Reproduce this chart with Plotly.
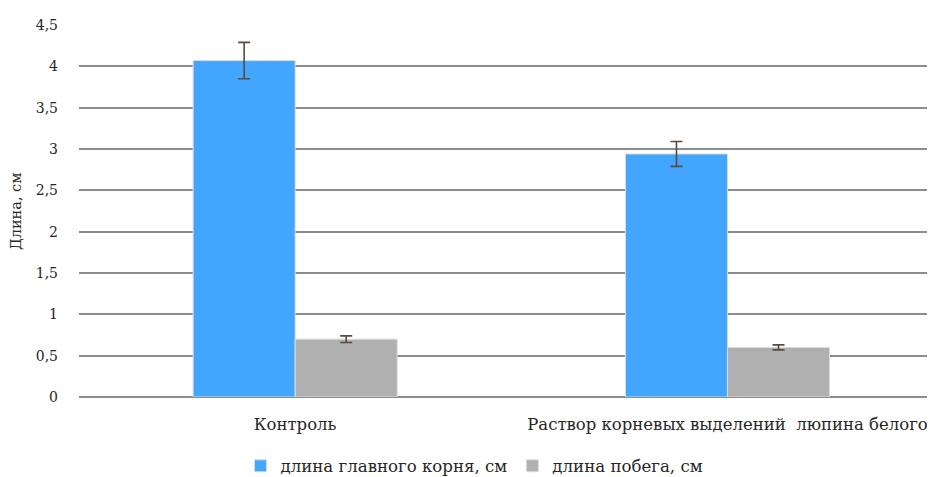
import plotly.graph_objects as go

categories = ["Контроль", "Раствор корневых выделений  люпина белого"]
root_len = [4.07, 2.94]
root_err = [0.22, 0.15]
shoot_len = [0.70, 0.60]
shoot_err = [0.04, 0.03]
y_ticks = [0, 0.5, 1, 1.5, 2, 2.5, 3, 3.5, 4, 4.5]
y_tick_labels = ["0", "0,5", "1", "1,5", "2", "2,5", "3", "3,5", "4", "4,5"]

font_family = "DejaVu Serif"
txt_color = "#262626"
err_color = "#5b4a40"

fig = go.Figure()
fig.add_trace(go.Bar(
    x=categories, y=root_len, name="длина главного корня, см",
    marker=dict(color="#42A6FF", line=dict(color="#dcdcdc", width=1)),
    error_y=dict(type="data", array=root_err, visible=True, color=err_color, thickness=1.6, width=6),
))
fig.add_trace(go.Bar(
    x=categories, y=shoot_len, name="длина побега, см",
    marker=dict(color="#B0B0B0", line=dict(color="#dcdcdc", width=1)),
    error_y=dict(type="data", array=shoot_err, visible=True, color=err_color, thickness=1.6, width=6),
))

fig.add_annotation(text="Длина, см", xref="paper", yref="paper", x=-0.0735, y=0.5,
                   xanchor="center", yanchor="middle", textangle=-90, showarrow=False,
                   font=dict(family=font_family, size=14.5, color=txt_color))

fig.update_layout(
    width=927, height=469,
    margin=dict(l=71, r=0, t=17, b=80, autoexpand=False),
    plot_bgcolor="white", paper_bgcolor="white",
    barmode="group", bargap=0.528, bargroupgap=0.0,
    font=dict(family=font_family, size=15, color=txt_color),
    showlegend=True,
    legend=dict(orientation="h", x=0.462, xanchor="center", y=-0.1855, yanchor="middle",
                font=dict(family=font_family, size=16.6, color=txt_color),
                itemwidth=30, traceorder="normal"),
    xaxis=dict(range=[-0.5, 1.48], showgrid=False, showline=False, ticks="",
               automargin=False, ticklabelstandoff=15,
               tickfont=dict(family=font_family, size=16.5, color=txt_color)),
    yaxis=dict(range=[0, 4.5], tickvals=y_ticks, ticktext=y_tick_labels,
               showgrid=True, gridcolor="#8c8c8c", gridwidth=2,
               zeroline=True, zerolinecolor="#8c8c8c", zerolinewidth=2,
               showline=False, ticks="", ticklen=0, automargin=False,
               ticklabelstandoff=20,
               tickfont=dict(family=font_family, size=14, color=txt_color)),
)

fig.write_html("out.html")
